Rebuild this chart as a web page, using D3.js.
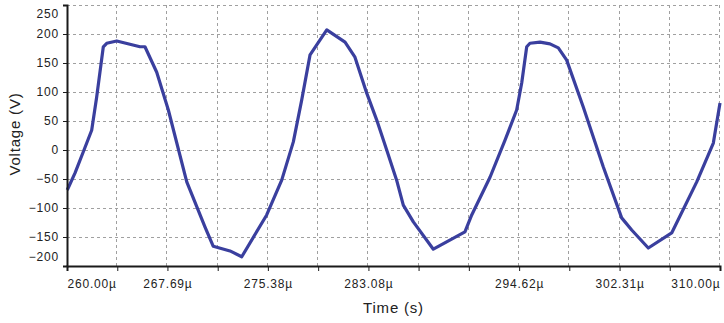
<!DOCTYPE html>
<html>
<head>
<meta charset="utf-8">
<script src="https://cdn.jsdelivr.net/npm/d3@7"></script>
<style>
  body { margin: 0; background: #fff; }
  svg { display: block; font-family: "Liberation Sans", Arial, sans-serif; }
</style>
</head>
<body>
<div id="chart"></div>
<script>
// time in microseconds, voltage in volts
var timeUs = [260.02, 260.61, 261.25, 261.89, 262.27, 262.78, 263.04, 263.81, 265.59, 265.97,
  266.87, 267.76, 269.17, 270.57, 271.20, 272.48, 273.38, 275.29, 276.44, 277.33,
  277.97, 278.61, 279.89, 281.29, 282.05, 282.95, 283.71, 284.48, 285.24, 285.75,
  286.52, 288.05, 290.47, 290.99, 292.39, 293.54, 294.43, 294.82, 295.20, 295.45,
  296.22, 296.98, 297.62, 298.26, 299.53, 301.06, 302.47, 303.24, 304.51, 306.30,
  308.22, 309.49, 310.00];
var voltage = [-69, -40, -3, 34, 91, 178, 184, 188, 178, 178,
  134, 69, -55, -133, -166, -174, -184, -112, -52, 14,
  86, 164, 207, 186, 160, 98, 52, 0, -52, -95,
  -124, -171, -141, -112, -47, 17, 69, 116, 178, 184,
  186, 183, 176, 155, 74, -29, -117, -138, -169, -143,
  -55, 12, 81];

var xTicks = [260, 263.85, 267.69, 271.54, 275.38, 279.23, 283.08, 286.92, 290.77,
  294.62, 298.46, 302.31, 306.15, 310];
var xTickLabels = ["260.00µ", "", "267.69µ", "", "275.38µ", "", "283.08µ", "", "",
  "294.62µ", "", "302.31µ", "", "310.00µ"];
var yTicks = [250, 200, 150, 100, 50, 0, -50, -100, -150, -200];

var width = 724, height = 323;
var margin = {left: 67, right: 4, top: 5, bottom: 57};

var x = d3.scaleLinear().domain([260, 310]).range([margin.left, width - margin.right]);
var y = d3.scaleLinear().domain([-200, 250]).range([height - margin.bottom, margin.top]);

var svg = d3.select("#chart").append("svg")
  .attr("width", width)
  .attr("height", height);

// grid
var grid = svg.append("g").attr("stroke", "#a0a0a0").attr("stroke-dasharray", "3,3").attr("stroke-width", 1);
grid.selectAll(".hg").data(yTicks.filter(function (d) { return d > -200; }))
  .enter().append("line")
    .attr("x1", margin.left).attr("x2", width - margin.right)
    .attr("y1", function (d) { return Math.round(y(d)) + 0.5; })
    .attr("y2", function (d) { return Math.round(y(d)) + 0.5; });
grid.selectAll(".vg").data(xTicks.slice(1))
  .enter().append("line")
    .attr("y1", margin.top).attr("y2", height - margin.bottom)
    .attr("x1", function (d) { return Math.round(x(d)) - 0.5; })
    .attr("x2", function (d) { return Math.round(x(d)) - 0.5; });

// trace
var line = d3.line()
  .x(function (d, i) { return x(timeUs[i]); })
  .y(function (d) { return y(d); });

svg.append("path")
  .datum(voltage)
  .attr("d", line)
  .attr("fill", "none")
  .attr("stroke", "#3a3f9e")
  .attr("stroke-width", 3.2)
  .attr("stroke-linejoin", "round");

// axes
var yAxis = svg.append("g")
  .attr("transform", "translate(" + margin.left + ",0)")
  .call(d3.axisLeft(y).tickValues(yTicks).tickSize(4).tickPadding(4));
yAxis.select(".domain").attr("stroke", "#1a1a1a").attr("stroke-width", 2);
yAxis.selectAll(".tick line").attr("stroke", "#1a1a1a");
yAxis.selectAll(".tick text")
  .attr("font-size", 12).attr("fill", "#222").attr("letter-spacing", "0.8px")
  .attr("font-family", "Liberation Sans, Arial, sans-serif")
  .attr("dy", function (d) { return d === 250 ? "1.05em" : d === -200 ? "-0.45em" : "0.32em"; });

var xAxis = svg.append("g")
  .attr("transform", "translate(0," + (height - margin.bottom) + ")")
  .call(d3.axisBottom(x).tickValues(xTicks).tickSize(5).tickPadding(8)
    .tickFormat(function (d, i) { return xTickLabels[i]; }));
xAxis.select(".domain").attr("stroke", "#1a1a1a").attr("stroke-width", 2);
xAxis.selectAll(".tick line").attr("stroke", "#1a1a1a");
xAxis.selectAll(".tick text")
  .attr("font-size", 12).attr("fill", "#222").attr("letter-spacing", "0.8px")
  .attr("font-family", "Liberation Sans, Arial, sans-serif")
  .attr("text-anchor", function (d, i) { return i === 0 ? "start" : i === xTicks.length - 1 ? "end" : "middle"; });

// axis titles
svg.append("text")
  .attr("x", (margin.left + width - margin.right) / 2)
  .attr("y", 313)
  .attr("text-anchor", "middle")
  .attr("font-size", 15).attr("letter-spacing", "0.8px").attr("fill", "#222")
  .text("Time (s)");

svg.append("text")
  .attr("transform", "translate(20,134) rotate(-90)")
  .attr("text-anchor", "middle")
  .attr("font-size", 15).attr("letter-spacing", "0.8px").attr("fill", "#222")
  .text("Voltage (V)");
</script>
</body>
</html>
